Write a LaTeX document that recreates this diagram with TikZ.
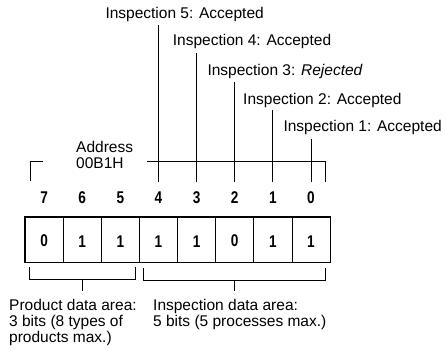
\documentclass[tikz,border=0pt]{standalone}
\usepackage{fontspec}
\setmainfont{Liberation Sans}
\newfontfamily\bitfont[FakeStretch=0.8]{Liberation Sans}

\begin{document}
\begin{tikzpicture}[x=1pt, y=-1pt,
    lbl/.style={anchor=base west, inner sep=0pt, align=left,
        font=\fontsize{15.5}{16}\selectfont},
    bitnum/.style={anchor=base, inner sep=0pt,
        font=\bitfont\bfseries\fontsize{17}{17}\selectfont},
    cell/.style={draw, line width=0.7pt, minimum width=38.125pt,
        minimum height=45pt, inner sep=0pt, text height=15pt,
        font=\bitfont\bfseries\fontsize{17}{17}\selectfont},
    lead/.style={line width=0.8pt}]
    \useasboundingbox (0,0) rectangle (446,349);

    % 位单元与位号
    \foreach \v [count=\k from 0] in {0,1,1,1,1,0,1,1} {
        \pgfmathtruncatemacro\b{7-\k}
        \node[cell] (cell\b) at ({25+38.125*(\k+0.5)},239.5) {\v};
        \node[bitnum] (num\b) at ({25+38.125*(\k+0.5)},203) {\b};
    }
    \draw[line width=1.3pt] (cell7.north west) rectangle (cell0.south east);

    % 检查结果标签
    \node[lbl] (insp5) at (105.3,18.3) {Inspection 5: Accepted};
    \node[lbl] (insp4) at (172.7,45.7) {Inspection 4: Accepted};
    \node[lbl] (insp3) at (207.3,75) {Inspection 3: \textit{Rejected}};
    \node[lbl] (insp2) at (243,104) {Inspection 2: Accepted};
    \node[lbl] (insp1) at (283.3,131.7) {Inspection 1: Accepted};

    % 引线 (上端在标签下方, 下端在位号上方)
    \foreach \b/\t in {4/25, 3/53, 2/82, 1/110, 0/139} {
        \coordinate (lt\b) at ({25+38.125*(7.5-\b)},\t);
        \coordinate (lb\b) at ({25+38.125*(7.5-\b)},182);
        \draw[lead] (lt\b) -- (lb\b);
    }

    % 地址 (多行节点的 base 在最后一行)
    \node[lbl] (addr) at (76,168.3) {Address\\00B1H};
    \coordinate (hl) at (147,161);
    \coordinate (hr) at (325,161);
    \coordinate (hrb) at (325,182);
    \draw[lead] (hl) -- (hr) -- (hrb);
    \coordinate (blb) at (30,181);
    \coordinate (blt) at (30,161);
    \coordinate (blr) at (43,161);
    \draw[lead] (blb) -- (blt) -- (blr);

    % 下方括号
    \coordinate (pa) at (29,267);
    \coordinate (pb) at (135,267);
    \coordinate (pm) at (82,279);
    \coordinate (pt) at (82,291);
    \draw[lead] (pa) -- (pa |- pm) -- (pb |- pm) -- (pb);
    \draw[lead] (pm) -- (pt);
    \coordinate (ia) at (143,268);
    \coordinate (ib) at (325,268);
    \coordinate (im) at (234,280);
    \coordinate (it) at (234,291);
    \draw[lead] (ia) -- (ia |- im) -- (ib |- im) -- (ib);
    \draw[lead] (im) -- (it);

    % 区域说明
    \node[lbl] (prod) at (9,342.7) {Product data area:\\3 bits (8 types of\\products max.)};
    \node[lbl] (inspArea) at (153,326.7) {Inspection data area:\\5 bits (5 processes max.)};
\end{tikzpicture}
\end{document}
